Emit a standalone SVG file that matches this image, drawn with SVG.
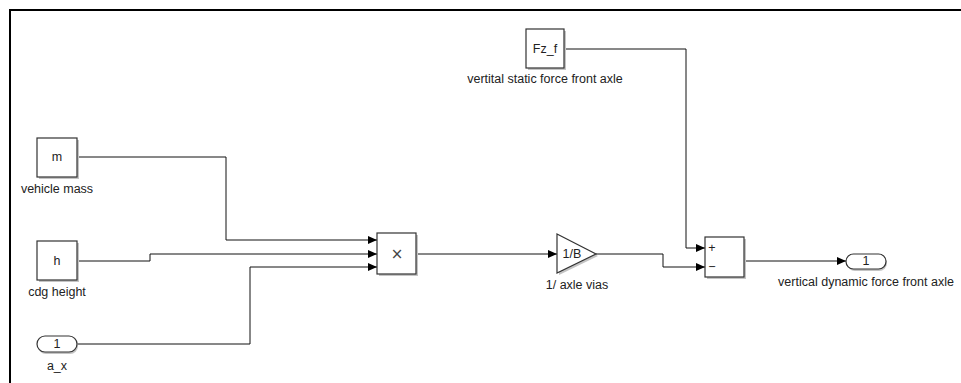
<svg xmlns="http://www.w3.org/2000/svg" width="961" height="383" viewBox="0 0 961 383">
<defs>
<marker id="arr" markerWidth="9" markerHeight="8" refX="9" refY="4" orient="auto" markerUnits="userSpaceOnUse">
<path d="M0,0 L9,4 L0,8 Z" fill="#000"/>
</marker>
</defs>
<style>
.blk{fill:#fff;stroke:#333;stroke-width:1.2}
.sh{fill:#c4c4c4}
.t{font-family:"Liberation Sans",Arial,sans-serif;font-size:12.5px;fill:#222;text-anchor:middle}
.bt{font-family:"Liberation Sans",Arial,sans-serif;font-size:12.5px;fill:#222;text-anchor:middle;dominant-baseline:central}
.w{fill:none;stroke:#111;stroke-width:1}
</style>
<rect width="961" height="383" fill="#fff"/>
<path d="M10,383 L10,10 L961,10" fill="none" stroke="#000" stroke-width="2"/>
<g id="connectors">
<path class="w" d="M77,157 H226 V240 H377" marker-end="url(#arr)"/>
<path class="w" d="M77,261 H150 V254 H377" marker-end="url(#arr)"/>
<path class="w" d="M77,344 H250 V267 H377" marker-end="url(#arr)"/>
<path class="w" d="M416,254 H557" marker-end="url(#arr)"/>
<path class="w" d="M596,254 H663 V267 H705" marker-end="url(#arr)"/>
<path class="w" d="M564,49 H686 V248 H705" marker-end="url(#arr)"/>
<path class="w" d="M744,261 H846" marker-end="url(#arr)"/>
</g>
<g id="m">
<rect class="sh" x="39" y="140" width="40" height="39"/>
<rect class="blk" x="37" y="138" width="40" height="39"/>
<text class="bt" x="57" y="157">m</text>
<text class="t" x="57" y="193">vehicle mass</text>
</g>
<g id="h">
<rect class="sh" x="39" y="243" width="40" height="39"/>
<rect class="blk" x="37" y="241" width="40" height="39"/>
<text class="bt" x="57" y="261">h</text>
<text class="t" x="57" y="296">cdg height</text>
</g>
<g id="a_x">
<rect class="sh" x="38" y="337" width="40" height="17" rx="8"/>
<rect class="blk" x="37" y="336" width="40" height="16" rx="8"/>
<text class="bt" x="57" y="344">1</text>
<text class="t" x="57" y="370">a_x</text>
</g>
<g id="Fz_f">
<rect class="sh" x="528" y="31" width="38" height="39"/>
<rect class="blk" x="526" y="29" width="38" height="39"/>
<text class="bt" x="545" y="49">Fz_f</text>
<text class="t" x="545" y="83">vertital static force front axle</text>
</g>
<g id="product">
<rect class="sh" x="379" y="235" width="39" height="41"/>
<rect class="blk" x="377" y="233" width="39" height="41"/>
<text class="bt" x="397" y="254" style="font-family:'DejaVu Sans',sans-serif;font-size:15px;fill:#444">×</text>
</g>
<g id="gain">
<path d="M559,236 L598,256 L559,275 Z" fill="#c4c4c4"/>
<path class="blk" d="M557,234 L596,254 L557,273 Z"/>
<text class="bt" x="572" y="254">1/B</text>
<text class="t" x="577" y="289">1/ axle vias</text>
</g>
<g id="sum">
<rect class="sh" x="707" y="239" width="39" height="40"/>
<rect class="blk" x="705" y="237" width="39" height="40"/>
<text class="bt" x="712" y="248" font-size="11">+</text>
<text class="bt" x="712" y="267" font-size="11">−</text>
</g>
<g id="out">
<rect class="sh" x="847" y="255" width="40" height="16" rx="8"/>
<rect class="blk" x="846" y="254" width="40" height="15" rx="7.5"/>
<text class="bt" x="866" y="261">1</text>
<text class="t" x="866" y="286">vertical dynamic force front axle</text>
</g>
</svg>
